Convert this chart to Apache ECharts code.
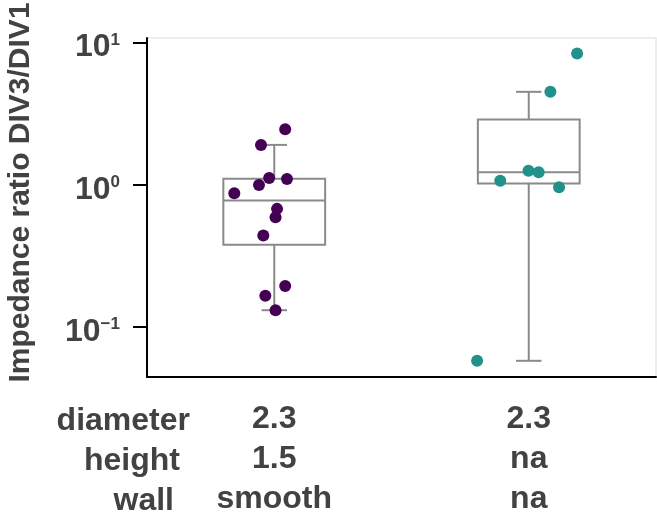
<!DOCTYPE html>
<html>
<head>
<meta charset="utf-8">
<script src="https://cdn.jsdelivr.net/npm/echarts@6/dist/echarts.min.js"></script>
<style>
html,body{margin:0;padding:0;background:#fff;}
#chart{width:657px;height:519px;}
</style>
</head>
<body>
<div id="chart"></div>
<script>
// ---- data ----
const categories = ['group A', 'group B'];
const rowNames = ['diameter', 'height', 'wall'];
const diameterRow = ['2.3', '2.3'];
const heightRow = ['1.5', 'na'];
const wallRow = ['smooth', 'na'];

const group1Values = [2.45, 1.905, 1.114, 1.096, 0.995, 0.87, 0.676, 0.591, 0.44, 0.194, 0.1655, 0.131];
const group1Jitter = [0.043, -0.052, -0.02, 0.05, -0.06, -0.157, 0.011, 0.005, -0.043, 0.043, -0.035, 0.005];
const group2Values = [8.36, 4.5, 1.253, 1.221, 1.066, 0.959, 0.0577];
const group2Jitter = [0.19, 0.085, -0.001, 0.039, -0.112, 0.119, -0.203];

// [lower whisker, Q1, median, Q3, upper whisker]
const boxStats = [
  [0.131, 0.378, 0.773, 1.10, 1.905],
  [0.0577, 1.02, 1.221, 2.88, 4.5]
];
const yTickValues = [0.1, 1, 10];
const yTickExponents = ['−1', '0', '1'];

// ---- chart ----
const TEXT = '#424242';
const FONT = 'Liberation Sans, Arial, sans-serif';
const BOX = '#8a8a8a';
const colors = ['#440154', '#21918c'];

const chart = echarts.init(document.getElementById('chart'), null, {renderer: 'canvas'});

const boxData = boxStats.map((s, i) => [i].concat(s));
const scatter1 = group1Values.map((v, i) => [0 + group1Jitter[i], v]);
const scatter2 = group2Values.map((v, i) => [1 + group2Jitter[i], v]);

function renderBox(params, api) {
  const idx = api.value(0);
  const lo = api.coord([idx, api.value(1)]);
  const q1 = api.coord([idx, api.value(2)]);
  const md = api.coord([idx, api.value(3)]);
  const q3 = api.coord([idx, api.value(4)]);
  const hi = api.coord([idx, api.value(5)]);
  const band = api.size([1, 0])[0];
  const bw = band * 0.4;
  const cw = band * 0.1;
  const x = lo[0];
  const st = {stroke: BOX, lineWidth: 2, fill: null};
  return {
    type: 'group',
    children: [
      {type: 'rect', shape: {x: x - bw / 2, y: q3[1], width: bw, height: q1[1] - q3[1]}, style: {stroke: BOX, lineWidth: 2, fill: '#fff'}},
      {type: 'line', shape: {x1: x - bw / 2, y1: md[1], x2: x + bw / 2, y2: md[1]}, style: st},
      {type: 'line', shape: {x1: x, y1: q3[1], x2: x, y2: hi[1]}, style: st},
      {type: 'line', shape: {x1: x, y1: q1[1], x2: x, y2: lo[1]}, style: st},
      {type: 'line', shape: {x1: x - cw / 2, y1: hi[1], x2: x + cw / 2, y2: hi[1]}, style: st},
      {type: 'line', shape: {x1: x - cw / 2, y1: lo[1], x2: x + cw / 2, y2: lo[1]}, style: st}
    ]
  };
}

const rowYs = [421, 461, 501];
const rowRight = [190, 180, 174];

const option = {
  backgroundColor: '#ffffff',
  animation: false,
  grid: {left: 147, right: 1, top: 38, bottom: 140, show: true, borderColor: '#e8e8e8', borderWidth: 1.5, backgroundColor: 'transparent'},
  xAxis: [
    {
      type: 'category',
      data: categories,
      boundaryGap: true,
      axisLine: {onZero: false, lineStyle: {color: '#000', width: 2}},
      axisTick: {alignWithLabel: true, length: 13, lineStyle: {color: '#000', width: 2}},
      axisLabel: {
        margin: 22,
        color: TEXT,
        fontSize: 32,
        fontWeight: 'bold',
        fontFamily: FONT,
        lineHeight: 40,
        formatter: function (v, i) { return diameterRow[i] + '\n' + heightRow[i] + '\n' + wallRow[i]; }
      },
      splitLine: {show: false}
    },
    {
      type: 'value', min: -0.5, max: 1.5, show: false,
      axisLine: {onZero: false}
    }
  ],
  yAxis: {
    type: 'log',
    logBase: 10,
    min: 0.0444,
    max: 10.76,
    axisLine: {show: true, onZero: false, lineStyle: {color: '#000', width: 2}},
    axisTick: {show: true, length: 14, lineStyle: {color: '#000', width: 2}, customValues: yTickValues},
    axisLabel: {
      customValues: yTickValues,
      margin: 27,
      padding: [10, 0, 0, 0],
      formatter: function (v) {
        const k = yTickValues.findIndex(t => Math.abs(t - v) / t < 1e-6);
        return k < 0 ? '' : '{b|10}{s|' + yTickExponents[k] + '}';
      },
      rich: {
        b: {fontSize: 32, fontWeight: 'bold', color: TEXT, fontFamily: FONT, lineHeight: 32},
        s: {fontSize: 17, fontWeight: 'bold', color: TEXT, fontFamily: FONT, lineHeight: 13, verticalAlign: 'top'}
      }
    },
    splitLine: {show: false}
  },
  graphic: [
    {
      type: 'text', x: 21, y: 192.5, rotation: Math.PI / 2,
      style: {text: 'Impedance ratio DIV3/DIV1', fill: TEXT, font: 'bold 30px ' + FONT, textAlign: 'center', textVerticalAlign: 'middle'}
    }
  ].concat(rowNames.map((n, i) => ({
    type: 'text', x: rowRight[i], y: rowYs[i],
    style: {text: n, fill: TEXT, font: 'bold 32px ' + FONT, textAlign: 'right', textVerticalAlign: 'middle'}
  }))),
  series: [
    {
      type: 'custom', xAxisIndex: 0, yAxisIndex: 0, z: 2,
      renderItem: renderBox,
      data: boxData
    },
    {
      type: 'scatter', xAxisIndex: 1, z: 5, symbolSize: 12,
      itemStyle: {color: colors[0], opacity: 1},
      data: scatter1
    },
    {
      type: 'scatter', xAxisIndex: 1, z: 5, symbolSize: 12,
      itemStyle: {color: colors[1], opacity: 1},
      data: scatter2
    }
  ]
};
chart.setOption(option);
</script>
</body>
</html>
